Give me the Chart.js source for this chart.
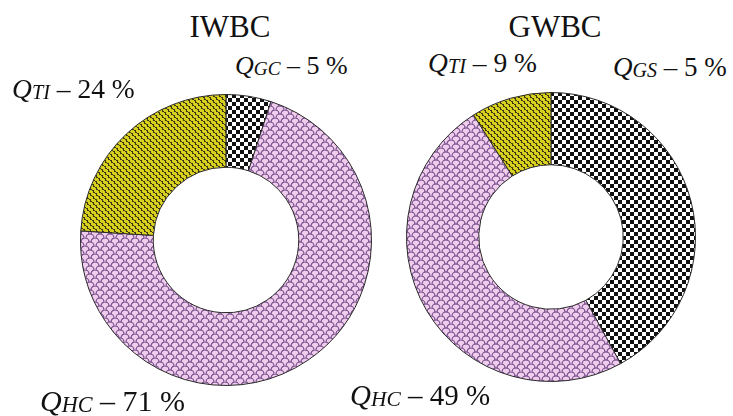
<!DOCTYPE html>
<html>
<head>
<meta charset="utf-8">
<script src="https://cdn.jsdelivr.net/npm/chart.js@4"></script>
<style>
body { margin:0; background:#fff; width:733px; height:416px; overflow:hidden; position:relative; }
canvas { position:absolute; }
.lab { position:absolute; font-family:"Liberation Serif","DejaVu Serif",serif; color:#111; line-height:1; white-space:nowrap; }
.lab i { font-style:italic; }
.lab sub { font-size:0.74em; font-style:italic; vertical-align:-0.04em; }
.tit { font-size:31px; transform:translateX(-50%); }
</style>
</head>
<body>

<canvas id="graficoIWBC" width="292" height="292" style="left:80px;top:94px"></canvas>
<canvas id="graficoGWBC" width="290" height="290" style="left:406px;top:92px"></canvas>

<div id="titIWBC" class="lab tit" style="left:230px;top:11px"></div>
<div id="titGWBC" class="lab tit" style="left:555px;top:11px"></div>

<div id="labIWBC0" class="lab" style="left:235px;top:53px;font-size:26px"></div>
<div id="labIWBC1" class="lab" style="left:40px;top:386px;font-size:30px"></div>
<div id="labIWBC2" class="lab" style="left:12px;top:75px;font-size:27.5px"></div>

<div id="labGWBC0" class="lab" style="left:613px;top:54px;font-size:27px"></div>
<div id="labGWBC1" class="lab" style="left:350px;top:381px;font-size:29px"></div>
<div id="labGWBC2" class="lab" style="left:428px;top:49px;font-size:27.5px"></div>

<script>
// ======================================
// DATOS
// ======================================

const titulos = ["IWBC", "GWBC"];

// clockwise from the top
const iwbcSub = ["GC", "HC", "TI"];
const iwbcValores = [5, 71, 24];
const iwbcTexto = [5, 71, 24];

const gwbcSub = ["GS", "HC", "TI"];
const gwbcValores = [42, 49, 9];   // arc sizes as drawn
const gwbcTexto = [5, 49, 9];      // percentages as printed on the figure


// ======================================
// PATRONES
// ======================================

function patronCuadros(){
const c = document.createElement("canvas");
c.width = 8; c.height = 8;
const g = c.getContext("2d");
g.fillStyle = "#fff";
g.fillRect(0,0,8,8);
g.fillStyle = "#111";
g.fillRect(0,0,4,4);
g.fillRect(4,4,4,4);
return g.createPattern(c,"repeat");
}

function patronAmarillo(){
const c = document.createElement("canvas");
c.width = 6; c.height = 6;
const g = c.getContext("2d");
g.fillStyle = "#d8d01e";
g.fillRect(0,0,6,6);
g.fillStyle = "#3b3512";
g.fillRect(0,0,2,1);
g.fillRect(1,1,1,1);
g.fillRect(1,2,2,1);
g.fillRect(3,3,2,1);
g.fillRect(4,4,1,1);
g.fillRect(4,5,2,1);
return g.createPattern(c,"repeat");
}

function patronRosa(){
const c = document.createElement("canvas");
c.width = 10; c.height = 8;
const g = c.getContext("2d");
g.fillStyle = "#f0cdec";
g.fillRect(0,0,10,8);
g.strokeStyle = "#6a4284";
g.lineWidth = 1.1;
g.beginPath();
g.arc(5,4,4,Math.PI,2*Math.PI);
g.stroke();
g.beginPath();
g.arc(0,8,4,Math.PI,2*Math.PI);
g.stroke();
g.beginPath();
g.arc(10,8,4,Math.PI,2*Math.PI);
g.stroke();
return g.createPattern(c,"repeat");
}

const cuadros = patronCuadros();
const amarillo = patronAmarillo();
const rosa = patronRosa();


// ======================================
// GRAFICOS
// ======================================

function crearDona(id, sub, valores, colores){

new Chart(document.getElementById(id),{

type:"doughnut",

data:{
labels:sub,
datasets:[{
data:valores,
backgroundColor:colores,
borderColor:"#2a2a2a",
borderWidth:1
}]
},

options:{
responsive:false,
animation:false,
cutout:"50%",
layout:{ padding:0 },
plugins:{
legend:{ display:false },
tooltip:{ enabled:false }
}
}

});

}

crearDona("graficoIWBC", iwbcSub, iwbcValores, [cuadros, rosa, amarillo]);
crearDona("graficoGWBC", gwbcSub, gwbcValores, [cuadros, rosa, amarillo]);


// ======================================
// TEXTOS
// ======================================

document.getElementById("titIWBC").textContent = titulos[0];
document.getElementById("titGWBC").textContent = titulos[1];

function etiqueta(id, sub, pct){
document.getElementById(id).innerHTML = "<i>Q</i><sub>" + sub + "</sub> – " + pct + " %";
}

iwbcSub.forEach((s,i) => etiqueta("labIWBC" + i, s, iwbcTexto[i]));
gwbcSub.forEach((s,i) => etiqueta("labGWBC" + i, s, gwbcTexto[i]));
</script>
</body>
</html>
